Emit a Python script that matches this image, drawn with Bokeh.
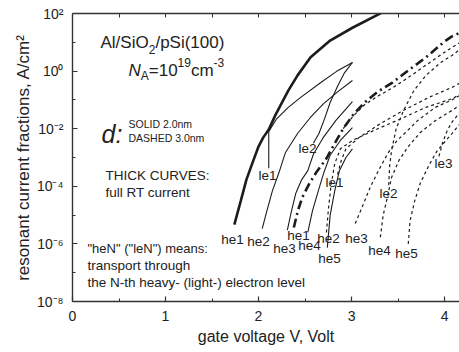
from bokeh.plotting import figure
from bokeh.models import Range1d, LinearAxis, FixedTicker, CustomJSTickFormatter, Label
from bokeh.embed import file_html
from bokeh.resources import INLINE

# ---------------- axis ticks ----------------
x_ticks = [0, 1, 2, 3, 4]
x_tick_labels = ["0", "1", "2", "3", "4"]
x_minor = [0.5, 1.5, 2.5, 3.5]
y_ticks = [1e-8, 1e-6, 1e-4, 1e-2, 1e0, 1e2]
y_tick_labels = ["10\u207b\u2078", "10\u207b\u2076", "10\u207b\u2074", "10\u207b\u00b2", "10\u2070", "10\u00b2"]
y_minor = [1e-7, 1e-5, 1e-3, 1e-1, 1e1]

# ---------------- d = 2.0 nm (solid) : gate voltage V, current density A/cm^2 ----------------
full_2nm_v = [1.74, 1.81, 1.87, 1.94, 2.00, 2.05, 2.11, 2.18, 2.32, 2.42, 2.56, 2.77, 3.01, 3.29, 3.33]
full_2nm_j = [4.7e-6, 3.2e-5, 1.7e-4, 7.2e-4, 2.4e-3, 4.9e-3, 9.3e-3, 2.9e-2, 0.21, 0.71, 3.0, 11.5, 32, 93, 110]

le1_2nm_v = [2.11, 2.11, 2.19, 2.32, 2.45, 2.67, 2.84, 3.01]
le1_2nm_j = [4.2e-4, 7.9e-3, 2.1e-2, 5.5e-2, 0.12, 0.40, 0.98, 2.0]

le2_2nm_v = [2.59, 2.65, 2.71, 2.77, 2.85, 2.92, 3.01]
le2_2nm_j = [3.1e-3, 6.8e-3, 2.2e-2, 8.1e-2, 0.30, 0.83, 2.0]

he2_2nm_v = [2.04, 2.09, 2.15, 2.22, 2.29, 2.42, 2.56, 2.70, 2.85, 3.01]
he2_2nm_j = [3.4e-6, 1.4e-5, 7.1e-5, 3.0e-4, 1.5e-3, 6.8e-3, 2.5e-2, 7.4e-2, 0.19, 0.47]

he3_2nm_v = [2.31, 2.35, 2.40, 2.46, 2.53, 2.59, 2.69, 2.83, 3.01]
he3_2nm_j = [3.0e-6, 1.2e-5, 5.6e-5, 1.6e-4, 3.5e-4, 1.3e-3, 4.6e-3, 1.9e-2, 8.7e-2]

he4_2nm_v = [2.53, 2.58, 2.65, 2.70, 2.77, 2.88, 3.01]
he4_2nm_j = [2.5e-6, 1.4e-5, 8.3e-5, 2.8e-4, 1.2e-3, 3.9e-3, 1.1e-2]

he5_2nm_v = [2.74, 2.77, 2.82, 2.87, 2.94, 3.01]
he5_2nm_j = [7.4e-7, 9.8e-6, 7.1e-5, 3.5e-4, 1.0e-3, 2.0e-3]

# ---------------- d = 3.0 nm (dashed) ----------------
full_3nm_v = [2.38, 2.42, 2.47, 2.55, 2.62, 2.73, 2.82, 2.91, 3.02, 3.14, 3.29, 3.44, 3.61, 3.80, 4.00, 4.08, 4.16]
full_3nm_j = [3.7e-6, 1.3e-5, 4.1e-5, 1.3e-4, 3.0e-4, 9.2e-4, 3.1e-3, 1.0e-2, 3.1e-2, 8.1e-2, 0.20, 0.40, 1.05, 3.0, 10.7, 16, 21]

he1_3nm_v = [2.91, 3.02, 3.14, 3.29, 3.44, 3.61, 3.80, 4.00, 4.08, 4.16]
he1_3nm_j = [1.0e-2, 2.8e-2, 6.8e-2, 0.14, 0.26, 0.60, 1.6, 4.5, 6.6, 9.5]

he2_3nm_v = [2.73, 2.75, 2.78, 2.82, 2.88, 3.01, 3.24, 3.53, 3.80, 4.08, 4.16]
he2_3nm_j = [2.5e-6, 1.4e-5, 1.1e-4, 6.2e-4, 2.0e-3, 3.9e-3, 8.7e-3, 2.2e-2, 5.5e-2, 0.11, 0.15]

le1_3nm_v = [2.85, 2.89, 2.94, 3.08, 3.31, 3.58, 3.85, 4.08, 4.16]
le1_3nm_j = [2.6e-4, 7.9e-4, 2.0e-3, 4.9e-3, 1.5e-2, 4.7e-2, 0.13, 0.27, 0.38]

he3_3nm_v = [3.04, 3.12, 3.20, 3.29, 3.39, 3.49, 3.57, 3.71, 3.90, 4.08, 4.16]
he3_3nm_j = [5.1e-6, 2.1e-5, 9.1e-5, 3.5e-4, 1.4e-3, 3.9e-3, 6.8e-3, 1.9e-2, 5.5e-2, 0.10, 0.14]

he4_3nm_v = [3.31, 3.34, 3.39, 3.43, 3.51, 3.61, 3.74, 3.90, 4.08, 4.16]
he4_3nm_j = [1.7e-6, 9.8e-6, 4.8e-5, 2.0e-4, 7.9e-4, 2.4e-3, 7.4e-3, 1.9e-2, 4.3e-2, 6.5e-2]

he5_3nm_v = [3.61, 3.63, 3.68, 3.74, 3.83, 3.92, 4.08, 4.16]
he5_3nm_j = [1.0e-6, 6.5e-6, 3.2e-5, 1.3e-4, 5.2e-4, 1.7e-3, 6.8e-3, 1.4e-2]

le2_3nm_v = [3.40, 3.41, 3.43, 3.48, 3.56, 3.67, 3.80, 3.96, 4.08, 4.16]
le2_3nm_j = [1.1e-4, 5.2e-4, 1.7e-3, 1.0e-2, 4.3e-2, 0.21, 0.71, 2.0, 3.5, 5.5]

le3_3nm_v = [3.94, 3.98, 4.03, 4.08, 4.16]
le3_3nm_j = [1.1e-3, 3.3e-3, 8.7e-3, 1.7e-2, 3.5e-2]

# curve labels
curve_label_text = ["he1", "he2", "he3", "he1", "he4", "he2", "he5", "he3", "he4", "he5",
                    "le1", "le2", "le1", "le2", "le3"]

FONT = "Liberation Sans"
INK = "#1c1c1c"
TXT = "#222222"

p = figure(width=459, height=350,
           x_range=Range1d(0, 4.161), y_range=Range1d(1e-8, 1e2),
           y_axis_type="log", output_backend="svg", toolbar_location=None,
           min_border_left=72, min_border_right=0, min_border_top=13, min_border_bottom=49)
p.outline_line_color = None
p.grid.visible = False
p.background_fill_color = "white"
p.border_fill_color = "white"

# ---- curves ----
thin_solid = [(le1_2nm_v, le1_2nm_j), (le2_2nm_v, le2_2nm_j), (he2_2nm_v, he2_2nm_j),
              (he3_2nm_v, he3_2nm_j), (he4_2nm_v, he4_2nm_j), (he5_2nm_v, he5_2nm_j)]
for v, j in thin_solid:
    p.line(v, j, line_color=INK, line_width=1.1)

thin_dashed = [(he1_3nm_v, he1_3nm_j), (he2_3nm_v, he2_3nm_j), (le1_3nm_v, le1_3nm_j),
               (he3_3nm_v, he3_3nm_j), (he4_3nm_v, he4_3nm_j), (he5_3nm_v, he5_3nm_j),
               (le2_3nm_v, le2_3nm_j), (le3_3nm_v, le3_3nm_j)]
for v, j in thin_dashed:
    p.line(v, j, line_color=INK, line_width=1.2, line_dash="3 3")

p.line(full_2nm_v, full_2nm_j, line_color=INK, line_width=2.6)
p.line(full_3nm_v, full_3nm_j, line_color=INK, line_width=2.6, line_dash="9 4 2 4")

# ---- axes ----
def fmt(vals, labels, logscale):
    diff = "Math.abs(Math.log10(vals[i]) - Math.log10(tick))" if logscale else "Math.abs(vals[i] - tick)"
    code = """
    let best = -1, d = 1e9;
    for (let i = 0; i < vals.length; i++) {
        const e = %s;
        if (e < d) { d = e; best = i; }
    }
    return (d < 0.01) ? labels[best] : "";
    """ % diff
    return CustomJSTickFormatter(args=dict(vals=vals, labels=labels), code=code)

def style_axis(ax):
    ax.axis_line_color = "#333333"
    ax.axis_line_width = 1.4
    ax.major_tick_line_color = "#333333"
    ax.minor_tick_line_color = "#333333"
    ax.major_tick_line_width = 1.2
    ax.minor_tick_line_width = 1.0
    ax.major_tick_in = 5
    ax.major_tick_out = 0
    ax.minor_tick_in = 3
    ax.minor_tick_out = 0
    ax.major_label_text_font = FONT
    ax.major_label_text_font_size = "14px"
    ax.major_label_text_color = TXT
    ax.axis_label_text_font = FONT
    ax.axis_label_text_font_style = "normal"
    ax.axis_label_text_color = TXT

xa = p.xaxis[0]
xa.ticker = FixedTicker(ticks=x_ticks, minor_ticks=x_minor)
xa.formatter = fmt(x_ticks, x_tick_labels, False)
style_axis(xa)
xa.major_label_standoff = 9
xa.axis_label = "gate voltage V, Volt"
xa.axis_label_text_font_size = "16px"
xa.axis_label_standoff = 4

ya = p.yaxis[0]
ya.ticker = FixedTicker(ticks=y_ticks, minor_ticks=y_minor)
ya.formatter = fmt(y_ticks, y_tick_labels, True)
style_axis(ya)
ya.major_label_standoff = 9
ya.axis_label = "resonant current fractions, A/cm\u00b2"
ya.axis_label_text_font_size = "17px"
ya.axis_label_standoff = 1

# top frame edge: ticks only (no labels)
top = LinearAxis(ticker=FixedTicker(ticks=[], minor_ticks=x_ticks + x_minor))
style_axis(top)
top.minor_tick_in = 4
top.major_label_standoff = 0
p.add_layout(top, "above")

# ---- text annotations (positions in page pixels of the reference, mapped to data) ----
def vx(px):
    return (px - 72) / 93.0

def jy(py):
    return 10 ** (2 - (py - 13) / 28.8)

def txt(px, py, text, size, align="left", style="normal"):
    p.add_layout(Label(x=vx(px), y=jy(py), text=text, text_font=FONT,
                       text_font_size=f"{size}px", text_align=align,
                       text_baseline="middle", text_font_style=style, text_color=TXT))

# Al/SiO2/pSi(100)
txt(100, 42, "Al/SiO", 17)
txt(148.2, 49, "2", 12)
txt(154.9, 42, "/pSi(100)", 17)
# N_A = 10^19 cm^-3
txt(128, 70, "N", 17, style="italic")
txt(140.3, 75, "A", 12)
txt(148.3, 70, "=10", 17)
txt(177.1, 62, "19", 12)
txt(190.4, 70, "cm", 17)
txt(213.1, 62, "-3", 12)
# d: SOLID / DASHED
txt(101, 133, "d:", 25, style="italic")
txt(128, 123, "SOLID 2.0nm", 10.5)
txt(128, 137, "DASHED 3.0nm", 10.5)
# thick curves
txt(105, 175, "THICK CURVES:", 13.5)
txt(105, 192, "full RT current", 13.5)
# heN / leN explanation
txt(87, 248, "\"heN\" (\"leN\") means:", 13)
txt(87, 265, "transport through", 13.5)
txt(87, 282, "the N-th heavy- (light-) electron level", 13.5)

# curve labels
label_px = [(232, 239), (258, 241), (284, 248), (298, 235), (309, 245), (328, 238), (329, 258),
            (356, 238), (379, 250), (406, 253), (267, 175), (307, 148), (334, 182), (388, 193), (443, 163)]
for t, (lx, ly) in zip(curve_label_text, label_px):
    txt(lx, ly, t, 13.5, align="center")

open("out.html", "w").write(file_html(p, INLINE))
